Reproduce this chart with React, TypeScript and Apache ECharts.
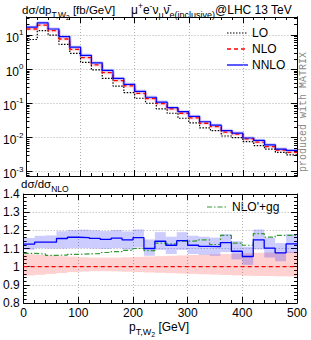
import React, { useEffect, useRef } from 'react';
import * as echarts from 'echarts';

const FONT = '"Liberation Sans", Arial, Helvetica, sans-serif';

// bin edges in GeV (20 GeV bins)
const binEdges = [0, 20, 40, 60, 80, 100, 120, 140, 160, 180, 200, 220, 240, 260, 280, 300, 320, 340, 360, 380, 400, 420, 440, 460, 480, 500];

// dσ/dpT [fb/GeV]
const loVals = [7.4, 13.4, 10.0, 5.35, 2.92, 1.59, 0.95, 0.54, 0.32, 0.206, 0.141, 0.1006, 0.0686, 0.0514, 0.0366, 0.0267, 0.0191, 0.0159, 0.0111, 0.0099, 0.0076, 0.0058, 0.00455, 0.0037, 0.0031];
const nloVals = [15.0, 19.6, 13.4, 7.64, 3.82, 2.17, 1.33, 0.79, 0.46, 0.323, 0.197, 0.137, 0.098, 0.0686, 0.0514, 0.0374, 0.0262, 0.0208, 0.0143, 0.0125, 0.0091, 0.0073, 0.0054, 0.0043, 0.0037];
const nnloVals = [17.0, 22.8, 15.0, 9.0, 4.4, 2.55, 1.54, 0.92, 0.535, 0.36, 0.225, 0.151, 0.109, 0.075, 0.057, 0.0415, 0.029, 0.023, 0.016, 0.0135, 0.0097, 0.0082, 0.0061, 0.0046, 0.0042];

// ratios to NLO
const ratioNLO = [1, 1, 1, 1, 1, 1, 1, 1, 1, 1, 1, 1, 1, 1, 1, 1, 1, 1, 1, 1, 1, 1, 1, 1, 1];
const ratioNLOUp = [1.068, 1.065, 1.062, 1.058, 1.055, 1.052, 1.05, 1.05, 1.05, 1.052, 1.054, 1.056, 1.058, 1.06, 1.062, 1.064, 1.066, 1.068, 1.07, 1.072, 1.074, 1.076, 1.078, 1.08, 1.082];
const ratioNLODown = [0.952, 0.955, 0.96, 0.965, 0.97, 0.973, 0.975, 0.975, 0.974, 0.972, 0.97, 0.968, 0.966, 0.964, 0.962, 0.96, 0.958, 0.956, 0.954, 0.952, 0.95, 0.949, 0.948, 0.947, 0.946];
const ratioNNLO = [1.124, 1.135, 1.135, 1.155, 1.162, 1.16, 1.156, 1.15, 1.157, 1.148, 1.16, 1.1, 1.14, 1.118, 1.143, 1.118, 1.112, 1.11, 1.132, 1.085, 1.056, 1.148, 1.102, 1.076, 1.125];
const ratioNNLOUp = [1.158, 1.17, 1.172, 1.195, 1.202, 1.204, 1.2, 1.196, 1.202, 1.194, 1.205, 1.15, 1.19, 1.165, 1.19, 1.17, 1.165, 1.16, 1.18, 1.14, 1.11, 1.205, 1.16, 1.13, 1.18];
const ratioNNLODown = [1.093, 1.102, 1.1, 1.1, 1.102, 1.102, 1.1, 1.098, 1.102, 1.095, 1.105, 1.06, 1.092, 1.07, 1.092, 1.07, 1.065, 1.06, 1.08, 1.04, 1.01, 1.095, 1.05, 1.03, 1.075];
const ratioGG = [1.073, 1.07, 1.062, 1.064, 1.068, 1.07, 1.072, 1.078, 1.083, 1.09, 1.1, 1.088, 1.13, 1.126, 1.14, 1.142, 1.148, 1.122, 1.172, 1.13, 1.118, 1.182, 1.163, 1.172, 1.172];

const topMajorTicks = [0.001, 0.01, 0.1, 1, 10];
const ratioLabels = [0.8, 0.9, 1, 1.1, 1.2, 1.3, 1.4];

const TOP_MIN = 7.48e-4;
const TOP_MAX = 33.7;

const minorLogTicks: number[] = [];
for (let d = -4; d <= 1; d++) {
  for (let m = 2; m <= 9; m++) {
    const v = m * Math.pow(10, d);
    if (v > TOP_MIN && v < TOP_MAX) minorLogTicks.push(v);
  }
}

function stepData(vals: number[]) {
  return binEdges.map((e, i) => [e, vals[Math.min(i, vals.length - 1)]]);
}
function bandData(lo: number[], hi: number[]) {
  return lo.map((l, i) => [binEdges[i], binEdges[i + 1], l, hi[i]]);
}
const bandRender = (color: string) => (params: any, api: any) => {
  const a = api.coord([api.value(0), api.value(3)]);
  const b = api.coord([api.value(1), api.value(2)]);
  return {
    type: 'rect',
    shape: { x: a[0], y: a[1], width: b[0] - a[0], height: b[1] - a[1] },
    style: { fill: color },
  };
};

function makeRich(base: number, sub: number, subsub: number) {
  return {
    b: { fontSize: base, fontFamily: FONT, lineHeight: 13, padding: [3, 0, 0, 0], verticalAlign: 'top', fill: '#000' },
    p: { fontSize: 8.5, fontFamily: FONT, lineHeight: 9, padding: [0, 0, 0, 0], verticalAlign: 'top', fill: '#000' },
    s: { fontSize: sub, fontFamily: FONT, lineHeight: 9, padding: [9, 0, 0, 0], verticalAlign: 'top', fill: '#000' },
    ss: { fontSize: subsub, fontFamily: FONT, lineHeight: 7, padding: [13, 0, 0, 0], verticalAlign: 'top', fill: '#000' },
  };
}
const rich = makeRich(12, 9, 7);
const richLeft = makeRich(11.5, 8.5, 6.5);

const frameLine = { show: true, lineStyle: { color: '#000', width: 1 } };
const dotted = { show: true, lineStyle: { color: '#b0b0b0', type: [1, 2], width: 1 } };

function xAxisDef(gridIndex: number, position: string, main: boolean, labels: boolean) {
  return {
    type: 'value', gridIndex, position, min: 0, max: 500, interval: 100,
    axisLine: { ...frameLine, onZero: false },
    axisTick: { show: true, inside: true, length: 6, lineStyle: { color: '#000' } },
    minorTick: { show: true, splitNumber: 5, length: 3, lineStyle: { color: '#000' } },
    axisLabel: { show: labels, fontSize: 12, fontFamily: FONT, color: '#000', margin: 4 },
    splitLine: main ? dotted : { show: false },
  };
}

function logAxisDef(position: string, ticks: number[], len: number, main: boolean) {
  return {
    type: 'log', gridIndex: 0, position, min: TOP_MIN, max: TOP_MAX, logBase: 10,
    axisLine: { ...frameLine, onZero: false },
    axisTick: { show: true, inside: true, length: len, customValues: ticks, lineStyle: { color: '#000' } },
    axisLabel: main ? {
      show: true, margin: 3, customValues: topMajorTicks,
      formatter: (v: number) => `{b|10}{p|${Math.round(Math.log10(v))}}`,
      rich: {
        b: { fontSize: 12, fontFamily: FONT, lineHeight: 13, padding: [3, 0, 0, 0], verticalAlign: 'top', color: '#000' },
        p: { fontSize: 8, fontFamily: FONT, lineHeight: 8, verticalAlign: 'top', color: '#000' },
      },
    } : { show: false },
    splitLine: main ? dotted : { show: false },
  };
}

function ratioYDef(position: string, labels: boolean) {
  return {
    type: 'value', gridIndex: 1, position, min: 0.8, max: 1.4, interval: 0.1,
    axisLine: { ...frameLine, onZero: false },
    axisTick: { show: true, inside: true, length: 6, lineStyle: { color: '#000' } },
    minorTick: { show: true, splitNumber: 5, length: 3, lineStyle: { color: '#000' } },
    axisLabel: {
      show: labels, fontSize: 12, fontFamily: FONT, color: '#000', margin: 4,
      formatter: (v: number) => {
        const r = Math.round(v * 10) / 10;
        return ratioLabels.includes(r) ? (r === 1 ? '1' : r.toFixed(1)) : '';
      },
    },
    splitLine: labels ? dotted : { show: false },
  };
}

function legendItem(x: number, y: number, label: string, color: string, dash: number[] | null, width: number) {
  return [
    { type: 'line', shape: { x1: x, y1: y, x2: x + 21, y2: y }, style: { stroke: color, lineWidth: width, lineDash: dash || undefined } },
    { type: 'text', x: x + 25, y, style: { text: label, fontSize: 12, fontFamily: FONT, fill: '#000', verticalAlign: 'middle', align: 'left' } },
  ];
}

const option: any = {
  animation: false,
  backgroundColor: '#fff',
  grid: [
    { left: 21, top: 17, width: 276, height: 159 },
    { left: 21, top: 194, width: 276, height: 109 },
  ],
  xAxis: [
    xAxisDef(0, 'bottom', true, false),
    xAxisDef(0, 'top', false, false),
    xAxisDef(1, 'bottom', true, true),
    xAxisDef(1, 'top', false, false),
  ],
  yAxis: [
    logAxisDef('left', topMajorTicks, 6, true),
    logAxisDef('left', minorLogTicks, 3, false),
    logAxisDef('right', topMajorTicks, 6, false),
    logAxisDef('right', minorLogTicks, 3, false),
    ratioYDef('left', true),
    ratioYDef('right', false),
  ],
  series: [
    // top panel
    { type: 'line', xAxisIndex: 0, yAxisIndex: 0, step: 'end', symbol: 'none', data: stepData(nloVals), lineStyle: { color: 'rgba(255,0,0,0.13)', width: 3.5 }, silent: true, z: 2 },
    { type: 'line', xAxisIndex: 0, yAxisIndex: 0, step: 'end', symbol: 'none', data: stepData(nnloVals), lineStyle: { color: 'rgba(0,0,255,0.15)', width: 3.5 }, silent: true, z: 2 },
    { type: 'line', name: 'LO', xAxisIndex: 0, yAxisIndex: 0, step: 'end', symbol: 'none', data: stepData(loVals), lineStyle: { color: '#000', width: 1.2, type: [1.5, 1.5] }, z: 3 },
    { type: 'line', name: 'NLO', xAxisIndex: 0, yAxisIndex: 0, step: 'end', symbol: 'none', data: stepData(nloVals), lineStyle: { color: '#ff0000', width: 1.3, type: [4, 3] }, z: 4 },
    { type: 'line', name: 'NNLO', xAxisIndex: 0, yAxisIndex: 0, step: 'end', symbol: 'none', data: stepData(nnloVals), lineStyle: { color: '#0000ff', width: 1.2 }, z: 5 },
    // ratio panel
    { type: 'custom', xAxisIndex: 2, yAxisIndex: 4, clip: true, renderItem: bandRender('rgba(255,0,0,0.18)'), encode: { x: [0, 1], y: [2, 3] }, data: bandData(ratioNLODown, ratioNLOUp), z: 1 },
    { type: 'custom', xAxisIndex: 2, yAxisIndex: 4, clip: true, renderItem: bandRender('rgba(0,0,255,0.2)'), encode: { x: [0, 1], y: [2, 3] }, data: bandData(ratioNNLODown, ratioNNLOUp), z: 1 },
    { type: 'line', xAxisIndex: 2, yAxisIndex: 4, step: 'end', symbol: 'none', data: stepData(ratioGG), lineStyle: { color: '#339933', width: 1.2, type: [5, 2, 1.5, 2] }, z: 3 },
    { type: 'line', xAxisIndex: 2, yAxisIndex: 4, step: 'end', symbol: 'none', data: stepData(ratioNLO), lineStyle: { color: '#ff0000', width: 1.3, type: [4, 3] }, z: 4 },
    { type: 'line', xAxisIndex: 2, yAxisIndex: 4, step: 'end', symbol: 'none', data: stepData(ratioNNLO), lineStyle: { color: '#0000ff', width: 1.3 }, z: 5 },
  ],
  graphic: [
    { type: 'text', x: 22, y: 1, style: { text: '{b|dσ/dp}{s|T,W}{ss|2}{b| [fb/GeV]}', rich: richLeft } },
    { type: 'text', x: 131, y: 1, style: { text: '{b|μ}{p|+}{b|e}{p|-}{b|ν}{s|μ}{b|ν̄}{s|e}{s|(inclusive)}{b|@LHC 13 TeV}', rich } },
    { type: 'text', x: 21, y: 175, style: { text: '{b|dσ/dσ}{s|NLO}', rich: richLeft } },
    { type: 'text', x: 129, y: 318, style: { text: '{b|p}{s|T,W}{ss|2}{b| [GeV]}', rich } },
    ...legendItem(227, 33, 'LO', '#000', [1.5, 1.5], 1.2),
    ...legendItem(227, 49, 'NLO', '#ff0000', [4, 3], 1.4),
    ...legendItem(227, 65, 'NNLO', '#0000ff', null, 1.3),
    ...legendItem(207, 207, "NLO'+gg", '#339933', [5, 2, 1.5, 2], 1.2),
    { type: 'text', x: 303, y: 112, rotation: Math.PI / 2, style: { text: 'produced with MATRIX', fontFamily: '"Liberation Mono", "DejaVu Sans Mono", monospace', fontSize: 10, fill: '#888', align: 'center', verticalAlign: 'middle' } },
  ],
};

export default function App() {
  const ref = useRef<HTMLDivElement>(null);
  useEffect(() => {
    const chart = echarts.init(ref.current!, null, { renderer: 'svg' });
    chart.setOption(option);
    return () => chart.dispose();
  }, []);
  return <div ref={ref} style={{ position: 'absolute', left: 0, top: 0, width: 311, height: 340 }} />;
}
